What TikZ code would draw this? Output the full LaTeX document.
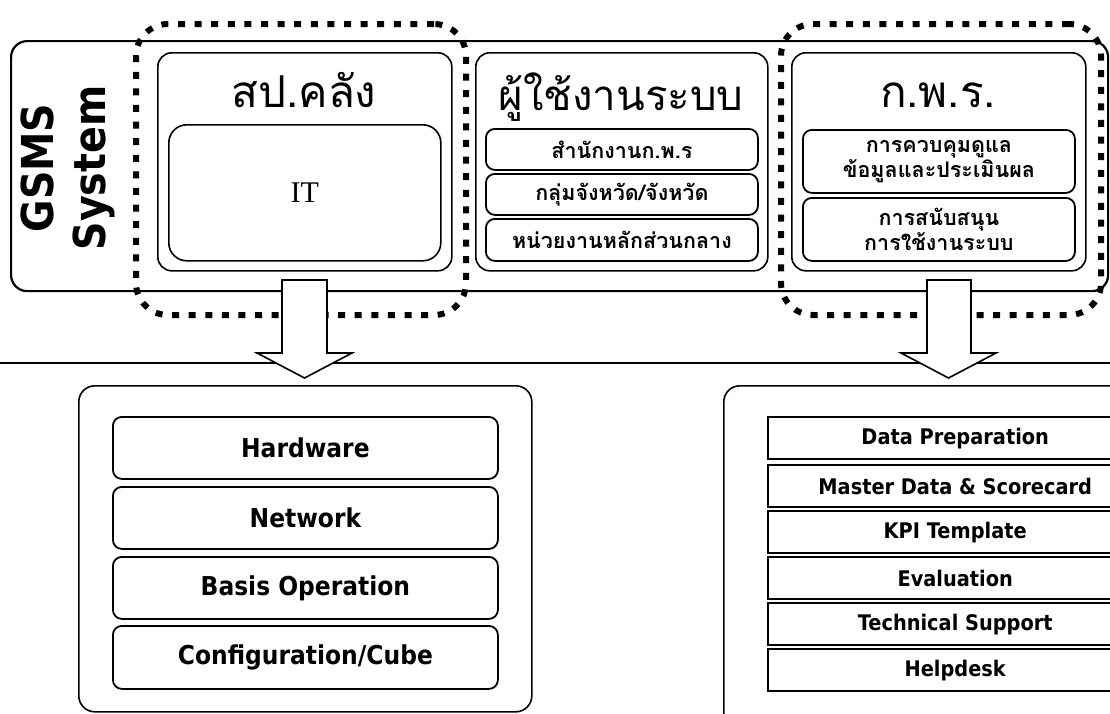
\documentclass[tikz,border=0pt]{standalone}
\usepackage{fontspec}
\newfontfamily\thaifont[Script=Thai]{Loma}
\newfontfamily\latb[FakeStretch=0.9]{DejaVu Sans}
\newfontfamily\serifit{Liberation Serif}
\usetikzlibrary{positioning}
\tikzset{
  outerbox/.style={draw, line width=2.2pt, rounded corners=16pt, inner sep=0pt, anchor=north west},
  panel/.style={draw, line width=1.6pt, rounded corners=14pt, fill=white, inner sep=0pt, anchor=north west},
  subbox/.style={draw, line width=1.8pt, rounded corners=9pt, fill=white, inner sep=0pt, anchor=north west},
  sqbox/.style={draw, line width=2.4pt, fill=white, inner sep=0pt, anchor=north west},
  dotbox/.style={draw, line width=6pt, dash pattern=on 7pt off 9.6pt, rounded corners=32pt, inner sep=0pt, anchor=north west},
  blockarrow/.style={draw, line width=1.6pt, fill=white, line join=miter},
  bigthai/.style={font=\thaifont\fontsize{44}{48}\selectfont, inner sep=0pt, anchor=base},
  smallthai/.style={font=\thaifont\bfseries\fontsize{21.5}{21}\selectfont, inner sep=0pt, align=center},
  latl/.style={font=\latb\bfseries\fontsize{26}{30}\selectfont, inner sep=0pt},
  latr/.style={font=\latb\bfseries\fontsize{21.5}{25}\selectfont, inner sep=0pt},
}
\begin{document}
\begin{tikzpicture}[x=1pt,y=-1pt]
\path[use as bounding box] (0,0) rectangle (1110,713);
\clip (0,0) rectangle (1110,713);

% GSMS system frame
\node[outerbox, minimum width=1097, minimum height=250] (gsms) at (10,40) {};
\node[rotate=90, align=center, inner sep=0pt, font=\latb\bfseries\fontsize{44}{52}\selectfont] (gsmslbl) at (68,168) {GSMS\\System};

% horizontal divider
\coordinate (hl) at (0,363);
\coordinate (hr) at (1110,363);
\draw[line width=1.6pt] (hl) -- (hr);

% left panel
\node[panel, minimum width=294, minimum height=218] (spk) at (157,52) {};
\node[bigthai] (spkt) at (304,107) {สป.คลัง};
\node[panel, minimum width=272, minimum height=136, rounded corners=18pt] (it) at (168,124) {};
\node[font=\serifit\fontsize{30}{32}\selectfont, inner sep=0pt] (itt) at (it.center) {IT};

% middle panel
\node[panel, minimum width=292, minimum height=218] (usr) at (475,52) {};
\node[bigthai, font=\thaifont\fontsize{42}{46}\selectfont] (usrt) at (621,110) {ผู้ใช้งานระบบ};
\node[subbox, minimum width=272, minimum height=41] (u1) at (485,128) {};
\node[smallthai] at (u1.center) {สำนักงานก.พ.ร};
\node[subbox, minimum width=272, minimum height=41] (u2) at (485,173) {};
\node[smallthai] at (u2.center) {กลุ่มจังหวัด/จังหวัด};
\node[subbox, minimum width=272, minimum height=42] (u3) at (485,218) {};
\node[smallthai] at (u3.center) {หน่วยงานหลักส่วนกลาง};

% right panel
\node[panel, minimum width=294, minimum height=218] (kpr) at (791,52) {};
\node[bigthai] (kprt) at (938,107) {ก.พ.ร.};
\node[subbox, minimum width=272, minimum height=63] (k1) at (802,129) {};
\node[smallthai] at (k1.center) {การควบคุมดูแล\\ข้อมูลและประเมินผล};
\node[subbox, minimum width=272, minimum height=63] (k2) at (802,197) {};
\node[smallthai] at (k2.center) {การสนับสนุน\\การใช้งานระบบ};

% dotted groups
\node[dotbox, minimum width=330, minimum height=291] (grpL) at (133,21) {};
\node[dotbox, minimum width=320, minimum height=291] (grpR) at (778,21) {};

% block arrows
\draw[blockarrow] (282,280) -- (327,280) -- (327,353) -- (352,353) -- (304.5,378) -- (257,353) -- (282,353) -- cycle;
\draw[blockarrow] (927,280) -- (971,280) -- (971,353) -- (996,353) -- (948.5,378) -- (901,353) -- (927,353) -- cycle;

% bottom left
\node[panel, minimum width=453, minimum height=326, rounded corners=16pt] (bl) at (78,385) {};
\node[subbox, minimum width=385, minimum height=62] (b1) at (112,416) {};
\node[latl] at (b1.center) {Hardware};
\node[subbox, minimum width=385, minimum height=62] (b2) at (112,486) {};
\node[latl] at (b2.center) {Network};
\node[subbox, minimum width=385, minimum height=62] (b3) at (112,556) {};
\node[latl] at (b3.center) {Basis Operation};
\node[subbox, minimum width=385, minimum height=63] (b4) at (112,625) {};
\node[latl] at (b4.center) {Configuration/Cube};

% bottom right
\node[panel, minimum width=500, minimum height=400, rounded corners=16pt] (br) at (723,385) {};
\node[sqbox, minimum width=374, minimum height=42] (r1) at (767,416) {};
\node[latr] at (r1.center) {Data Preparation};
\node[sqbox, minimum width=374, minimum height=42] (r2) at (767,464) {};
\node[latr] at (r2.center) {Master Data \& Scorecard};
\node[sqbox, minimum width=374, minimum height=42] (r3) at (767,510) {};
\node[latr] at (r3.center) {KPI Template};
\node[sqbox, minimum width=374, minimum height=42] (r4) at (767,556) {};
\node[latr] at (r4.center) {Evaluation};
\node[sqbox, minimum width=374, minimum height=42] (r5) at (767,602) {};
\node[latr] at (r5.center) {Technical Support};
\node[sqbox, minimum width=374, minimum height=42] (r6) at (767,648) {};
\node[latr] at (r6.center) {Helpdesk};
\end{tikzpicture}
\end{document}
